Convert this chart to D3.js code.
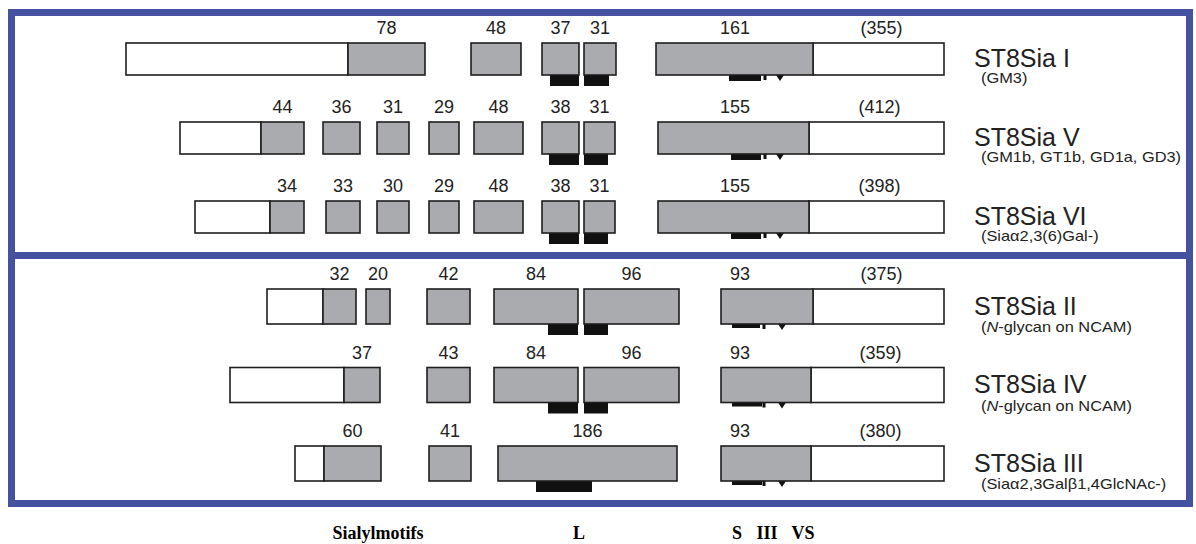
<!DOCTYPE html>
<html>
<head>
<meta charset="utf-8">
<script src="https://cdn.jsdelivr.net/npm/d3@7"></script>
<style>
  body { margin: 0; background: #fff; }
  svg { display: block; }
  .num { font-family: "Liberation Sans", Arial, sans-serif; font-size: 18px; fill: #222; text-anchor: middle; }
  .gene { font-family: "Liberation Sans", Arial, sans-serif; font-size: 25px; fill: #222; }
  .acceptor { font-family: "Liberation Sans", Arial, sans-serif; font-size: 14px; fill: #222; }
  .motif-name { font-family: "Liberation Serif", "Times New Roman", serif; font-size: 18px; font-weight: bold; fill: #000; text-anchor: middle; }
</style>
</head>
<body>
<svg id="chart" width="1196" height="544"></svg>
<script>
// ************************************
// Data (diagram units, 1 unit ~ 1 amino acid)
// ************************************

const genes = ["ST8Sia I", "ST8Sia V", "ST8Sia VI", "ST8Sia II", "ST8Sia IV", "ST8Sia III"];
const acceptors = [
    "(GM3)",
    "(GM1b, GT1b, GD1a, GD3)",
    "(Siaα2,3(6)Gal-)",
    "(N-glycan on NCAM)",
    "(N-glycan on NCAM)",
    "(Siaα2,3Galβ1,4GlcNAc-)"
];
const proteinLengths = ["(355)", "(412)", "(398)", "(375)", "(359)", "(380)"];
const panels = [0, 0, 0, 1, 1, 1];

// open box before the first coding exon
const utr5 = [[126, 348], [180, 261], [195, 270], [267, 323], [230, 344], [295, 324]];
// open box after the last coding exon ends here
const utr3End = [944, 944, 944, 944, 944, 944];

// coding exons: [start, end, size label, optional label anchor]
const exons = [
    [[348, 425, "78"], [471, 521, "48"], [542, 579, "37"], [584, 616, "31"], [656, 813, "161", 735]],
    [[261, 304, "44"], [323, 360, "36"], [377, 409, "31"], [429, 459, "29"], [474, 523, "48"], [542, 579, "38"], [584, 615, "31"], [658, 809, "155", 735]],
    [[270, 304, "34"], [326, 360, "33"], [377, 409, "30"], [429, 459, "29"], [474, 523, "48"], [542, 579, "38"], [584, 615, "31"], [658, 809, "155", 735]],
    [[323, 356, "32"], [366, 390, "20"], [427, 470, "42"], [494, 578, "84"], [584, 679, "96"], [721, 813, "93", 740]],
    [[344, 380, "37"], [427, 470, "43"], [494, 578, "84"], [584, 679, "96"], [721, 811, "93", 740]],
    [[324, 381, "60"], [429, 471, "41"], [498, 677, "186"], [721, 811, "93", 740]]
];

// sialylmotifs under the exons
const motifL = [
    [[550, 579], [584, 609]],
    [[549, 579], [584, 608]],
    [[549, 579], [584, 608]],
    [[548, 578], [584, 608]],
    [[548, 578], [584, 608]],
    [[536, 592]]
];
const motifS = [[729, 761], [731, 761], [731, 761], [732, 760], [732, 762], [732, 762]];
const motifIII = [765, 765, 765, 764, 764, 764];
const motifVS = [780, 780, 780, 782, 782, 782];

const motifNames = ["Sialylmotifs", "L", "S", "III", "VS"];

// ************************************
// Layout
// ************************************

const svg = d3.select("#chart");
const x = d3.scaleLinear().domain([0, 1196]).range([0, 1196]);

// row tops per panel
const rowY = [
    d3.scaleLinear().domain([0, 2]).range([43, 201]),
    d3.scaleLinear().domain([3, 5]).range([289, 446])
];
const boxH = [32, 35];
const rowTop = i => rowY[panels[i]](i);
const rowH = i => boxH[panels[i]];

const frameColor = "#4552a2";
const grey = "#a9abae";
const ink = "#1e1e1e";

// frame + divider
svg.append("rect")
    .attr("x", 11.5).attr("y", 12.5)
    .attr("width", 1178).attr("height", 491)
    .attr("fill", "none")
    .attr("stroke", frameColor)
    .attr("stroke-width", 7);

svg.append("line")
    .attr("x1", 8).attr("x2", 1193)
    .attr("y1", 255.5).attr("y2", 255.5)
    .attr("stroke", frameColor)
    .attr("stroke-width", 7);

const rows = svg.selectAll(".row")
    .data(genes)
    .enter()
    .append("g")
    .attr("class", "row");

rows.each(function(gene, i) {
    const g = d3.select(this);
    const y0 = rowTop(i), h = rowH(i);
    const ex = exons[i];
    const last = ex[ex.length - 1];

    // motifs first so box outlines sit on top
    motifL[i].forEach(([a, b]) => {
        g.append("rect")
            .attr("x", x(a)).attr("y", y0 + h - 1)
            .attr("width", x(b) - x(a)).attr("height", 12)
            .attr("fill", "#111");
    });
    const [sa, sb] = motifS[i];
    g.append("rect")
        .attr("x", x(sa)).attr("y", y0 + h - 1)
        .attr("width", x(sb) - x(sa)).attr("height", panels[i] ? 5 : 7)
        .attr("fill", "#111");
    g.append("rect")
        .attr("x", x(motifIII[i]) - 1.5).attr("y", y0 + h - 1)
        .attr("width", 3).attr("height", 6)
        .attr("fill", "#111");
    const vx = x(motifVS[i]);
    g.append("path")
        .attr("d", `M${vx - 4},${y0 + h} L${vx + 4},${y0 + h} L${vx},${y0 + h + 6} Z`)
        .attr("fill", "#111");

    // 5' open box
    g.append("rect")
        .attr("x", x(utr5[i][0])).attr("y", y0)
        .attr("width", x(utr5[i][1]) - x(utr5[i][0])).attr("height", h)
        .attr("fill", "#fff")
        .attr("stroke", ink).attr("stroke-width", 1.6);

    // 3' open box
    g.append("rect")
        .attr("x", x(last[1])).attr("y", y0)
        .attr("width", x(utr3End[i]) - x(last[1])).attr("height", h)
        .attr("fill", "#fff")
        .attr("stroke", ink).attr("stroke-width", 1.6);

    // coding exons
    g.selectAll(".exon")
        .data(ex)
        .enter()
        .append("rect")
        .attr("class", "exon")
        .attr("x", d => x(d[0])).attr("y", y0)
        .attr("width", d => x(d[1]) - x(d[0])).attr("height", h)
        .attr("fill", grey)
        .attr("stroke", ink).attr("stroke-width", 1.6);

    g.selectAll(".num")
        .data(ex)
        .enter()
        .append("text")
        .attr("class", "num")
        .attr("x", d => x(d[3] !== undefined ? d[3] : (d[0] + d[1]) / 2))
        .attr("y", y0 - 9)
        .text(d => d[2]);

    // protein length over the 3' box
    g.append("text")
        .attr("class", "num")
        .attr("x", x((last[1] + utr3End[i]) / 2) + 3)
        .attr("y", y0 - 9)
        .text(proteinLengths[i]);

    // gene name + acceptor
    g.append("text")
        .attr("class", "gene")
        .attr("x", 974)
        .attr("y", y0 + h / 2 + 8)
        .text(gene);

    const acc = g.append("text")
        .attr("class", "acceptor")
        .attr("transform", `translate(981,${y0 + h + 8}) scale(1.17,1)`);
    acceptors[i].split(/(N)(?=-glycan)/).forEach(part => {
        if (!part) return;
        acc.append("tspan")
            .style("font-style", part === "N" ? "italic" : "normal")
            .text(part);
    });
});

// motif names under the frame
const nameX = [378, 579, 737, 767, 803];
svg.selectAll(".motif-name")
    .data(motifNames)
    .enter()
    .append("text")
    .attr("class", "motif-name")
    .attr("x", (d, i) => nameX[i])
    .attr("y", 539)
    .text(d => d);
</script>
</body>
</html>
